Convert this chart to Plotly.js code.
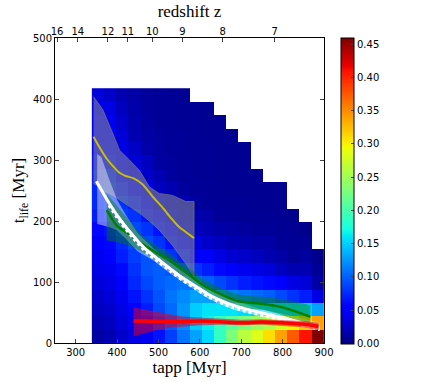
<!DOCTYPE html>
<html>
<head>
<meta charset="utf-8">
<script src="https://cdn.plot.ly/plotly-3.0.1.min.js"></script>
<style>
  html, body { margin: 0; padding: 0; background: #fff; }
  #chart { width: 436px; height: 382px; }
</style>
</head>
<body>
<div id="chart"></div>
<script>
// heatmap bins: 19 tapp columns (339..900 Myr) x 19 t_life rows (0..418 Myr)
const binX0 = 353.8, binDx = 29.53;
const binY0 = 10.99, binDy = 21.98;

// one array per tapp column, rows from bottom (t_life = 0) upwards
const columns = [
  [0.014, 0.02, 0.025, 0.03, 0.035, 0.04, 0.045, 0.05, 0.06, 0.07, 0.075, 0.075, 0.07, 0.065, 0.06, 0.055, 0.05, 0.045, 0.035],
  [0.02, 0.025, 0.03, 0.035, 0.04, 0.045, 0.05, 0.06, 0.065, 0.075, 0.08, 0.08, 0.075, 0.065, 0.06, 0.05, 0.045, 0.04, 0.03],
  [0.03, 0.035, 0.04, 0.045, 0.055, 0.06, 0.07, 0.075, 0.08, 0.085, 0.08, 0.07, 0.06, 0.05, 0.04, 0.035, 0.03, 0.025, 0.02],
  [0.04, 0.045, 0.055, 0.065, 0.075, 0.08, 0.085, 0.09, 0.09, 0.08, 0.07, 0.055, 0.045, 0.035, 0.028, 0.02, 0.018, 0.016, 0.015],
  [0.046, 0.06, 0.07, 0.08, 0.09, 0.095, 0.095, 0.09, 0.08, 0.065, 0.05, 0.04, 0.03, 0.025, 0.016, 0.014, 0.013, 0.012, 0.011],
  [0.065, 0.08, 0.09, 0.095, 0.1, 0.1, 0.09, 0.08, 0.065, 0.05, 0.035, 0.025, 0.02, 0.013, 0.012, 0.011, 0.01, 0.01, 0.01],
  [0.085, 0.1, 0.105, 0.11, 0.105, 0.095, 0.08, 0.065, 0.05, 0.035, 0.025, 0.02, 0.012, 0.011, 0.01, 0.01, 0.009, 0.009, 0.009],
  [0.11, 0.12, 0.125, 0.12, 0.11, 0.09, 0.07, 0.05, 0.035, 0.025, 0.02, 0.012, 0.01, 0.01, 0.009, 0.009, 0.008, 0.008, 0.008],
  [0.13, 0.15, 0.15, 0.13, 0.11, 0.08, 0.055, 0.04, 0.025, 0.02, 0.012, 0.01, 0.009, 0.009, 0.008, 0.008, 0.008, 0.008, null],
  [0.155, 0.165, 0.16, 0.13, 0.1, 0.07, 0.05, 0.03, 0.02, 0.015, 0.01, 0.009, 0.008, 0.008, 0.008, 0.007, 0.007, 0.007, null],
  [0.19, 0.19, 0.16, 0.12, 0.09, 0.06, 0.04, 0.025, 0.016, 0.01, 0.008, 0.008, 0.007, 0.007, 0.007, 0.007, 0.007, null, null],
  [0.23, 0.21, 0.16, 0.115, 0.08, 0.05, 0.032, 0.02, 0.014, 0.009, 0.008, 0.007, 0.007, 0.007, 0.007, 0.007, null, null, null],
  [0.265, 0.23, 0.155, 0.11, 0.07, 0.045, 0.03, 0.018, 0.012, 0.008, 0.008, 0.007, 0.007, 0.007, 0.007, null, null, null, null],
  [0.285, 0.245, 0.15, 0.105, 0.065, 0.04, 0.025, 0.015, 0.01, 0.008, 0.007, 0.007, 0.007, null, null, null, null, null, null],
  [0.31, 0.26, 0.15, 0.1, 0.06, 0.035, 0.02, 0.015, 0.01, 0.008, 0.007, 0.007, null, null, null, null, null, null, null],
  [0.34, 0.28, 0.15, 0.09, 0.05, 0.025, 0.015, 0.01, 0.008, 0.007, 0.007, 0.007, null, null, null, null, null, null, null],
  [0.375, 0.3, 0.15, 0.08, 0.04, 0.02, 0.01, 0.008, 0.007, 0.006, null, null, null, null, null, null, null, null, null],
  [0.41, 0.32, 0.15, 0.07, 0.035, 0.02, 0.012, 0.008, 0.005, null, null, null, null, null, null, null, null, null, null],
  [0.46, 0.34, 0.13, 0.04, 0.015, 0.01, 0.005, null, null, null, null, null, null, null, null, null, null, null, null],
];

// yellow line with grey band
const yelX = [343, 360, 375, 390, 406, 420, 440, 462, 486, 510, 530, 550, 570, 586];
const yelT = [338, 318, 302, 290, 279, 274, 270, 260, 240, 222, 205, 190, 180, 172];
const greyX = [343, 366, 390, 406, 430, 454, 478, 502, 534, 566, 586];
const greyHi = [404, 382, 343, 316, 300, 283, 256, 245, 242, 232, 232];
const greyLo = [262, 250, 242, 236, 224, 213, 200, 185, 160, 130, 108];

// white solid / dotted lines with pale band
const whiteX = [350, 380, 410, 440, 470, 500, 530, 560, 590, 620, 650, 680, 710, 740, 770, 800, 830, 860, 890];
const whiteT = [265, 230, 200, 175, 153, 137, 121, 106, 93, 80, 70, 62, 56, 51, 46, 41, 36, 31, 26];
const dotX = [380, 410, 440, 470, 500, 530, 560, 590, 620, 650, 680, 710, 740, 770, 800, 830, 860, 890];
const dotT = [226, 196, 171, 149, 133, 117, 102, 89, 76, 66, 58, 52, 47, 42, 37, 32, 27, 22];
const wbX = [352, 362, 380, 400, 422, 450, 486, 530, 570, 620, 680, 740, 800, 860, 890];
const wbHi = [310, 305, 270, 235, 209, 180, 156, 131, 112, 89, 70, 57, 48, 38, 33];
const wbLo = [195, 193, 190, 185, 170, 150, 136, 113, 96, 73, 55, 45, 35, 25, 20];

// green line with band
const grnX = [375, 400, 430, 460, 490, 526, 560, 607, 650, 690, 720, 755, 790, 830, 867];
const grnT = [218, 192, 178, 163, 150, 136, 119, 95, 80, 69, 66, 64, 60, 52, 43];
const grnHi = [245, 225, 200, 176, 162, 147, 130, 105, 90, 80, 77, 76, 73, 68, 62];
const grnLo = [168, 165, 160, 150, 139, 125, 108, 85, 71, 59, 56, 54, 48, 38, 30];

// red line with band
const redX = [440, 470, 500, 530, 560, 600, 650, 700, 750, 800, 850, 887];
const redT = [36, 36, 35.5, 35, 35, 36, 35, 33, 34.5, 33, 31, 27];
const redHi = [58, 54, 50, 46, 43, 42, 40, 38, 39, 38, 36, 33];
const redLo = [11, 17, 22, 25, 27, 29, 30, 29, 30, 28, 26, 21];

// top axis: redshift
const zTickPos = [255, 305, 378, 426, 485, 558, 655, 781];
const zTickText = ["16", "14", "12", "11", "10", "9", "8", "7"];

const xTicks = [300, 400, 500, 600, 700, 800, 900];
const yTicks = [0, 100, 200, 300, 400, 500];
const cbTicks = [0, 0.05, 0.1, 0.15, 0.2, 0.25, 0.3, 0.35, 0.4, 0.45];

const jet = [
  [0, "rgb(0,0,128)"], [0.11, "rgb(0,0,255)"], [0.125, "rgb(0,0,255)"],
  [0.34, "rgb(0,219,255)"], [0.35, "rgb(0,230,247)"], [0.375, "rgb(21,255,226)"],
  [0.64, "rgb(239,255,8)"], [0.65, "rgb(247,246,0)"], [0.66, "rgb(255,236,0)"],
  [0.89, "rgb(255,19,0)"], [0.91, "rgb(232,0,0)"], [1, "rgb(128,0,0)"],
];

const z = columns[0].map((_, r) => columns.map((col) => col[r]));

function band(xs, hi, lo, fill, edge) {
  return {
    x: xs.concat(xs.slice().reverse()),
    y: hi.concat(lo.slice().reverse()),
    type: "scatter", mode: "lines", fill: "toself",
    fillcolor: fill, line: { color: edge, width: edge ? 1 : 0 },
    hoverinfo: "skip", showlegend: false,
  };
}

function line(xs, ys, color, width, dash) {
  return {
    x: xs, y: ys, type: "scatter", mode: "lines",
    line: { color: color, width: width, dash: dash || "solid", shape: "spline", smoothing: 0.6 },
    showlegend: false,
  };
}

const serif = { family: "Liberation Serif, DejaVu Serif, serif", size: 17, color: "#000" };
const sans = { family: "DejaVu Sans, sans-serif", size: 10, color: "#000" };

const traces = [
  {
    type: "heatmap", z: z,
    x0: binX0, dx: binDx, y0: binY0, dy: binDy,
    zmin: 0, zmax: 0.46, colorscale: jet, zsmooth: false,
    colorbar: {
      x: 1.063, xanchor: "left", xpad: 0, y: 0.5, yanchor: "middle", ypad: 0,
      len: 1.004, thickness: 13, outlinewidth: 1, outlinecolor: "#000",
      tickvals: cbTicks, tickformat: ".2f", ticks: "inside", ticklen: 3,
      tickfont: sans,
    },
  },
  band(greyX, greyHi, greyLo, "rgba(140,140,140,0.55)", "rgba(120,120,120,0.7)"),
  line(yelX, yelT, "#c8c000", 2),
  band(wbX, wbHi, wbLo, "rgba(255,255,255,0.42)", null),
  band(grnX, grnHi, grnLo, "rgba(0,128,0,0.45)", null),
  line(grnX, grnT, "#008000", 2.5),
  line(whiteX, whiteT, "#ffffff", 3),
  line(dotX, dotT, "#ffffff", 3, "dot"),
  band(redX, redHi, redLo, "rgba(220,0,40,0.55)", null),
  line(redX, redT, "#ff0000", 3.5),
  { x: [250], y: [0], xaxis: "x2", type: "scatter", mode: "markers", marker: { opacity: 0 }, showlegend: false, hoverinfo: "skip" },
];

const layout = {
  width: 436, height: 382,
  margin: { l: 55, r: 112, t: 38, b: 39 },
  paper_bgcolor: "#fff", plot_bgcolor: "#fff",
  font: sans,
  xaxis: {
    range: [250, 900], tickvals: xTicks, ticks: "inside", ticklen: 4,
    showline: true, mirror: true, linecolor: "#000", linewidth: 1,
    showgrid: false, zeroline: false, tickfont: sans,
    title: { text: "tapp [Myr]", font: serif, standoff: 2 },
  },
  xaxis2: {
    overlaying: "x", side: "top", range: [250, 900],
    tickvals: zTickPos, ticktext: zTickText, ticks: "inside", ticklen: 4,
    showgrid: false, zeroline: false, showline: false, tickfont: sans,
    title: { text: "redshift z", font: serif, standoff: 4 },
  },
  yaxis: {
    range: [0, 500], tickvals: yTicks, ticks: "inside", ticklen: 4,
    showline: true, mirror: "ticks", linecolor: "#000", linewidth: 1,
    showgrid: false, zeroline: false, tickfont: sans,
    title: { text: "t<sub>life</sub> [Myr]", font: serif, standoff: 3 },
  },
};

Plotly.newPlot("chart", traces, layout, { displayModeBar: false, staticPlot: true });
</script>
</body>
</html>
